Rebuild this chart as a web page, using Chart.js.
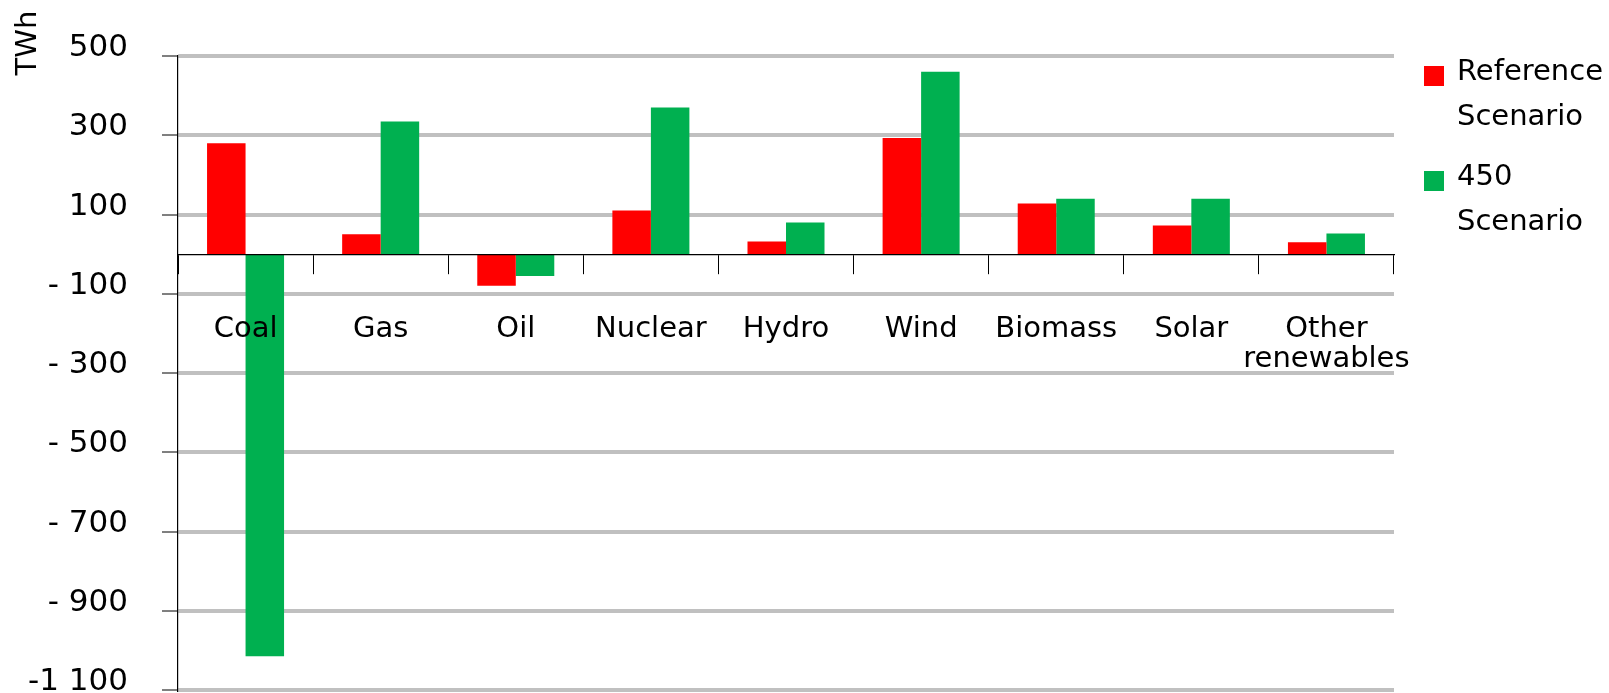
<!DOCTYPE html>
<html>
<head>
<meta charset="utf-8">
<title>Change in electricity generation</title>
<script src="https://cdn.jsdelivr.net/npm/chart.js@4.4.0/dist/chart.umd.min.js"></script>
<style>
  body { margin: 0; background: #fff; }
  #wrap { position: relative; width: 1609px; height: 693px; }
  #legend { position: absolute; left: 1424px; top: 48px; font-family: 'DejaVu Sans'; font-size: 29px; color: #000; }
  .item { display: flex; align-items: flex-start; margin-bottom: 15px; }
  .box { width: 20px; height: 20px; margin-top: 18px; margin-right: 13px; flex: none; }
  .txt { line-height: 45px; }
</style>
</head>
<body>
<div id="wrap">
  <canvas id="myChart" width="1609" height="693"></canvas>
  <div id="legend"></div>
</div>
<script>
// TWh change by source
const categories = ['Coal', 'Gas', 'Oil', 'Nuclear', 'Hydro', 'Wind', 'Biomass', 'Solar', ['Other', 'renewables']];
const referenceScenario = [280, 50, -80, 110, 32, 293, 128, 72, 30];
const scenario450 = [-1015, 335, -55, 370, 80, 460, 140, 140, 52];

const yTicks = [500, 300, 100, -100, -300, -500, -700, -900, -1100];
const yTickLabels = ['500', '300', '100', '- 100', '- 300', '- 500', '- 700', '- 900', '-1 100'];
const unit = 'TWh';

Chart.defaults.font.family = 'DejaVu Sans';
Chart.defaults.color = '#000';

// rotated unit label in the top left corner
const unitLabel = {
    id: 'unitLabel',
    afterDraw(chart) {
        const c = chart.ctx;
        c.save();
        c.translate(28, 43);
        c.rotate(-Math.PI / 2);
        c.font = '29px "DejaVu Sans"';
        c.fillStyle = '#000';
        c.textAlign = 'center';
        c.textBaseline = 'middle';
        c.fillText(unit, 0, 0);
        c.restore();
    }
};

const ctx = document.getElementById('myChart').getContext('2d');
const myChart = new Chart(ctx, {
    type: 'bar',
    data: {
        labels: categories,
        datasets: [{
            label: ['Reference', 'Scenario'],
            data: referenceScenario,
            backgroundColor: '#ff0000'
        }, {
            label: ['450', 'Scenario'],
            data: scenario450,
            backgroundColor: '#00b050'
        }]
    },
    options: {
        responsive: false,
        animation: false,
        layout: {
            padding: { top: 56, bottom: 3, left: 0, right: 215 }
        },
        datasets: {
            bar: { categoryPercentage: 0.57, barPercentage: 1.0 }
        },
        plugins: {
            legend: { display: false },
            tooltip: { enabled: false }
        },
        scales: {
            x: {
                position: { y: 0 },
                afterFit: (scale) => {
                    scale.height = 0;
                },
                grid: {
                    drawOnChartArea: false,
                    drawTicks: true,
                    tickLength: 19,
                    tickColor: '#000',
                    tickWidth: 1
                },
                border: { color: '#000', width: 1.2, z: 1 },
                ticks: {
                    z: 1,
                    font: { size: 29, lineHeight: 1.05 },
                    padding: 41,
                    maxRotation: 0,
                    autoSkip: false
                }
            },
            y: {
                min: -1100,
                max: 500,
                afterBuildTicks: (scale) => {
                    scale.ticks = yTicks.map(v => ({ value: v }));
                },
                afterFit: (scale) => {
                    scale.width = 178;
                    scale.paddingTop = 0;
                    scale.paddingBottom = 0;
                },
                grid: {
                    color: '#c0c0c0',
                    lineWidth: 4,
                    tickLength: 16,
                    tickColor: '#000',
                    tickWidth: 1
                },
                border: { color: '#000', width: 1.2 },
                ticks: {
                    font: { size: 31 },
                    padding: 34,
                    labelOffset: -8,
                    callback: (value) => yTickLabels[yTicks.indexOf(value)]
                }
            }
        }
    },
    plugins: [unitLabel]
});

// legend built from the datasets
const legend = document.getElementById('legend');
myChart.data.datasets.forEach(ds => {
    const item = document.createElement('div');
    item.className = 'item';
    const box = document.createElement('div');
    box.className = 'box';
    box.style.background = ds.backgroundColor;
    const txt = document.createElement('div');
    txt.className = 'txt';
    txt.innerHTML = ds.label.join('<br>');
    item.appendChild(box);
    item.appendChild(txt);
    legend.appendChild(item);
});
</script>
</body>
</html>
